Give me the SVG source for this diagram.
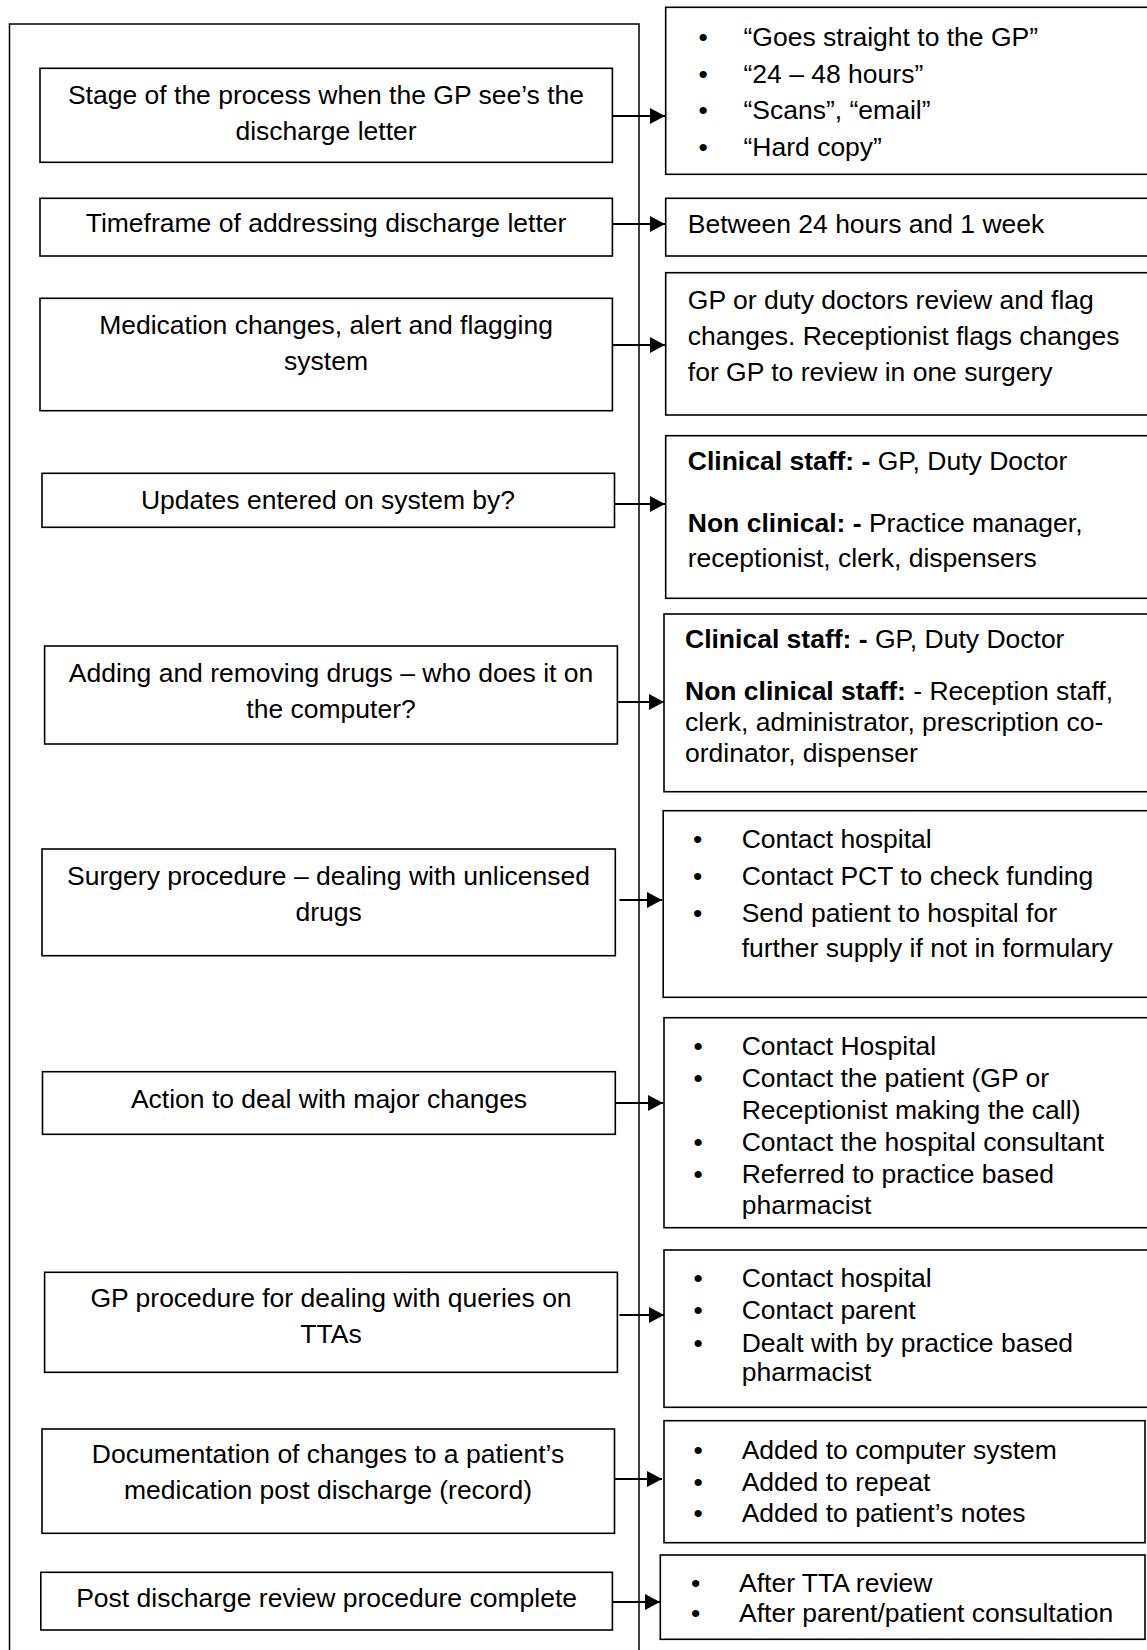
<svg xmlns="http://www.w3.org/2000/svg" width="1147" height="1650" viewBox="0 0 1147 1650">
<style>
text{font-family:"Liberation Sans",Arial,sans-serif;font-size:26.5px;fill:#000}
.c{text-anchor:middle}
.b{font-weight:bold}
.box{fill:#fff;stroke:#000;stroke-width:1.6}
.frame{fill:none;stroke:#000;stroke-width:1.5}
.conn{stroke:#000;stroke-width:2;fill:none;marker-end:url(#ah)}
</style>
<defs>
<marker id="ah" markerUnits="userSpaceOnUse" markerWidth="15" markerHeight="16" refX="15" refY="8" orient="auto">
<path d="M0,0 L15,8 L0,16 z" fill="#000"/>
</marker>
</defs>
<rect width="1147" height="1650" fill="#fff"/>
<g id="frame">
<path class="frame" d="M9.5,1650 V24 H639 V1650"/>
</g>
<g id="connectors">
<line class="conn" x1="612" y1="116" x2="665" y2="116"/>
<line class="conn" x1="612" y1="224" x2="665" y2="224"/>
<line class="conn" x1="612" y1="345" x2="665" y2="345"/>
<line class="conn" x1="611" y1="504" x2="665" y2="504"/>
<line class="conn" x1="617" y1="702" x2="664" y2="702"/>
<line class="conn" x1="619.5" y1="900" x2="662" y2="900"/>
<line class="conn" x1="615" y1="1103" x2="663" y2="1103"/>
<line class="conn" x1="619.5" y1="1315" x2="664" y2="1315"/>
<line class="conn" x1="614.5" y1="1479" x2="662" y2="1479"/>
<line class="conn" x1="612.5" y1="1602" x2="660" y2="1602"/>
</g>
<g id="q1">
<rect class="box" x="40" y="68.3" width="572.4" height="94"/>
<text class="c" x="326" y="104">Stage of the process when the GP see’s the</text>
<text class="c" x="326" y="140">discharge letter</text>
</g>
<g id="q2">
<rect class="box" x="40" y="198.3" width="572.4" height="57.7"/>
<text class="c" x="326" y="232">Timeframe of addressing discharge letter</text>
</g>
<g id="q3">
<rect class="box" x="40" y="298.3" width="572.4" height="112.4"/>
<text class="c" x="326" y="334">Medication changes, alert and flagging</text>
<text class="c" x="326" y="370">system</text>
</g>
<g id="q4">
<rect class="box" x="42" y="473.3" width="572.5" height="54"/>
<text class="c" x="328" y="509">Updates entered on system by?</text>
</g>
<g id="q5">
<rect class="box" x="44.6" y="646" width="572.8" height="98"/>
<text class="c" x="331" y="682">Adding and removing drugs – who does it on</text>
<text class="c" x="331" y="718">the computer?</text>
</g>
<g id="q6">
<rect class="box" x="42" y="849" width="573.3" height="106.7"/>
<text class="c" x="328.6" y="885">Surgery procedure – dealing with unlicensed</text>
<text class="c" x="328.6" y="921">drugs</text>
</g>
<g id="q7">
<rect class="box" x="42.5" y="1071.7" width="572.8" height="62.6"/>
<text class="c" x="329" y="1108">Action to deal with major changes</text>
</g>
<g id="q8">
<rect class="box" x="44.6" y="1272.3" width="572.8" height="100"/>
<text class="c" x="331" y="1307">GP procedure for dealing with queries on</text>
<text class="c" x="331" y="1343">TTAs</text>
</g>
<g id="q9">
<rect class="box" x="42" y="1429" width="572.5" height="104.3"/>
<text class="c" x="328" y="1463">Documentation of changes to a patient’s</text>
<text class="c" x="328" y="1499">medication post discharge (record)</text>
</g>
<g id="q10">
<rect class="box" x="40.8" y="1572.3" width="571.6" height="57.7"/>
<text class="c" x="326.6" y="1607">Post discharge review procedure complete</text>
</g>
<g id="a1">
<rect class="box" x="665.7" y="7.3" width="500" height="167"/>
<text x="698.4" y="46">•</text><text x="743.5" y="46">“Goes straight to the GP”</text>
<text x="698.4" y="82.5">•</text><text x="743.5" y="82.5">“24 – 48 hours”</text>
<text x="698.4" y="119">•</text><text x="743.5" y="119">“Scans”, “email”</text>
<text x="698.4" y="155.5">•</text><text x="743.5" y="155.5">“Hard copy”</text>
</g>
<g id="a2">
<rect class="box" x="665.7" y="198.3" width="500" height="57.7"/>
<text x="687.8" y="233">Between 24 hours and 1 week</text>
</g>
<g id="a3">
<rect class="box" x="665.7" y="272.7" width="500" height="142.3"/>
<text x="687.8" y="308.5">GP or duty doctors review and flag</text>
<text x="687.8" y="344.5">changes. Receptionist flags changes</text>
<text x="687.8" y="380.5">for GP to review in one surgery</text>
</g>
<g id="a4">
<rect class="box" x="665.7" y="435.7" width="500" height="162.6"/>
<text x="687.8" y="470"><tspan class="b">Clinical staff: -</tspan> GP, Duty Doctor</text>
<text x="687.8" y="531.7"><tspan class="b">Non clinical: -</tspan> Practice manager,</text>
<text x="687.8" y="566.7">receptionist, clerk, dispensers</text>
</g>
<g id="a5">
<rect class="box" x="664" y="614" width="500" height="177.7"/>
<text x="685" y="648.3"><tspan class="b">Clinical staff: -</tspan> GP, Duty Doctor</text>
<text x="685" y="700"><tspan class="b">Non clinical staff:</tspan> - Reception staff,</text>
<text x="685" y="730.5">clerk, administrator, prescription co-</text>
<text x="685" y="761.7">ordinator, dispenser</text>
</g>
<g id="a6">
<rect class="box" x="663.2" y="810.7" width="500" height="186.6"/>
<text x="692.9" y="848.3">•</text><text x="741.7" y="848.3">Contact hospital</text>
<text x="692.9" y="885">•</text><text x="741.7" y="885">Contact PCT to check funding</text>
<text x="692.9" y="921.7">•</text><text x="741.7" y="921.7">Send patient to hospital for</text>
<text x="741.7" y="956.7">further supply if not in formulary</text>
</g>
<g id="a7">
<rect class="box" x="664" y="1017.7" width="500" height="210"/>
<text x="693.5" y="1055">•</text><text x="741.7" y="1055">Contact Hospital</text>
<text x="693.5" y="1087">•</text><text x="741.7" y="1087">Contact the patient (GP or</text>
<text x="741.7" y="1119">Receptionist making the call)</text>
<text x="693.5" y="1151">•</text><text x="741.7" y="1151">Contact the hospital consultant</text>
<text x="693.5" y="1183">•</text><text x="741.7" y="1183">Referred to practice based</text>
<text x="741.7" y="1214">pharmacist</text>
</g>
<g id="a8">
<rect class="box" x="664" y="1250" width="500" height="157.3"/>
<text x="693.5" y="1287">•</text><text x="741.7" y="1287">Contact hospital</text>
<text x="693.5" y="1319">•</text><text x="741.7" y="1319">Contact parent</text>
<text x="693.5" y="1351.5">•</text><text x="741.7" y="1351.5">Dealt with by practice based</text>
<text x="741.7" y="1381">pharmacist</text>
</g>
<g id="a9">
<rect class="box" x="664" y="1420.7" width="481" height="122"/>
<text x="693.5" y="1458.5">•</text><text x="741.7" y="1458.5">Added to computer system</text>
<text x="693.5" y="1490.5">•</text><text x="741.7" y="1490.5">Added to repeat</text>
<text x="693.5" y="1521.5">•</text><text x="741.7" y="1521.5">Added to patient’s notes</text>
</g>
<g id="a10">
<rect class="box" x="660.3" y="1555" width="484.7" height="84.3"/>
<text x="691.1" y="1591.5">•</text><text x="739" y="1591.5">After TTA review</text>
<text x="691.1" y="1621.5">•</text><text x="739" y="1621.5">After parent/patient consultation</text>
</g>
</svg>
